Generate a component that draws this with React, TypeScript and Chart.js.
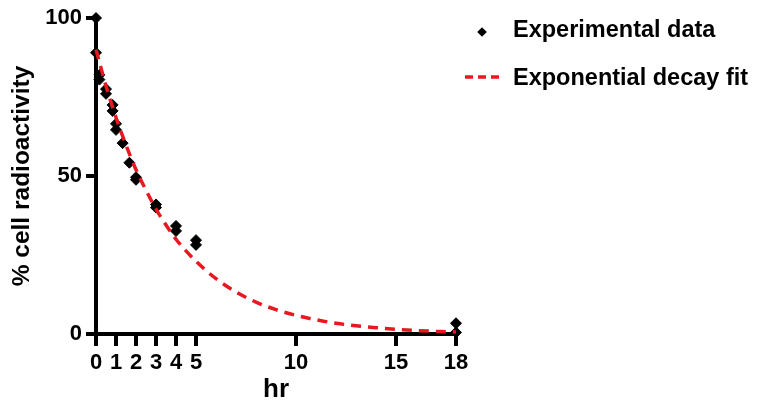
import React, { useEffect, useRef } from 'react';
import { Chart, registerables } from 'chart.js';

Chart.register(...registerables);

// ---- data ----
const seriesLabels = ['Experimental data', 'Exponential decay fit'];
const expTimes = [0, 0, 0.17, 0.17, 0.5, 0.5, 0.83, 0.83, 1, 1, 1.33, 1.67, 2, 2, 3, 3, 4, 4, 5, 5, 18, 18];
const expValues = [100, 89, 82, 80.5, 77.5, 76, 72.5, 70.6, 66.5, 64.6, 60.4, 54.2, 49.6, 48.8, 41, 40, 34.2, 32.6, 29.7, 28.2, 3.4, 0.5];
const fitTimes = [0, 0.5, 1, 1.5, 2, 2.5, 3, 3.5, 4, 4.5, 5, 6, 7, 8, 9, 10, 11, 12, 13, 14, 15, 16, 17, 18];
const fitValues = [90, 78.5, 68.5, 59.8, 52, 45.5, 39.5, 34.5, 30, 26.3, 23, 17.5, 13.3, 10.1, 7.7, 5.9, 4.5, 3.4, 2.6, 2, 1.5, 1.1, 0.85, 0.65];
const xTicks = [0, 1, 2, 3, 4, 5, 10, 15, 18];
const yTicks = [0, 50, 100];
const xTitle = 'hr';
const yTitle = '% cell radioactivity';

const FONT = '"Liberation Sans", Arial, Helvetica, sans-serif';
const RED = 'rgb(232,24,32)';

const legendPlugin = {
  id: 'sideLegend',
  afterDraw(chart: any) {
    const { ctx } = chart;
    ctx.save();
    // item 1: diamond marker
    const cx = 482;
    ctx.fillStyle = '#000';
    ctx.beginPath();
    ctx.moveTo(cx, 32 - 4.8);
    ctx.lineTo(cx + 4.8, 32);
    ctx.lineTo(cx, 32 + 4.8);
    ctx.lineTo(cx - 4.8, 32);
    ctx.closePath();
    ctx.fill();
    // item 2: dashed line
    ctx.strokeStyle = RED;
    ctx.lineWidth = 3.5;
    ctx.setLineDash([8, 5]);
    ctx.beginPath();
    ctx.moveTo(465, 77);
    ctx.lineTo(499, 77);
    ctx.stroke();
    ctx.setLineDash([]);
    ctx.font = `bold 23.5px ${FONT}`;
    ctx.textBaseline = 'middle';
    ctx.textAlign = 'left';
    ctx.fillStyle = '#000';
    ctx.fillText(seriesLabels[0], 513, 31);
    ctx.fillText(seriesLabels[1], 513, 79);
    ctx.restore();
  },
};

export default function App() {
  const ref = useRef<HTMLCanvasElement | null>(null);

  useEffect(() => {
    if (!ref.current) return;
    const expData = expTimes.map((t, i) => ({ x: t, y: expValues[i] }));
    const fitData = fitTimes.map((t, i) => ({ x: t, y: fitValues[i] }));
    const chart = new Chart(ref.current, {
      type: 'scatter',
      data: {
        datasets: [
          {
            type: 'line',
            label: seriesLabels[1],
            data: fitData,
            borderColor: RED,
            backgroundColor: RED,
            borderWidth: 3.5,
            borderDash: [10, 7],
            pointRadius: 0,
            cubicInterpolationMode: 'monotone',
            fill: false,
            order: 0,
            clip: false,
          } as any,
          {
            type: 'scatter',
            label: seriesLabels[0],
            data: expData,
            pointStyle: 'rectRot',
            pointRadius: 5.5,
            backgroundColor: '#000',
            borderColor: '#000',
            borderWidth: 1,
            order: 1,
            clip: false,
          } as any,
        ],
      },
      options: {
        responsive: false,
        animation: false,
        layout: { padding: { left: 0, top: 18, right: 307, bottom: 0 } },
        plugins: {
          legend: { display: false },
          tooltip: { enabled: false },
        },
        scales: {
          x: {
            type: 'linear',
            min: 0,
            max: 18,
            afterBuildTicks: (s: any) => {
              s.ticks = xTicks.map((v) => ({ value: v }));
            },
            afterFit: (s: any) => {
              s.height = 71;
            },
            grid: {
              drawOnChartArea: false,
              drawTicks: true,
              tickLength: 12,
              color: '#000',
              lineWidth: 4,
            },
            border: { display: true, color: '#000', width: 4 },
            ticks: {
              color: '#000',
              padding: 4,
              maxRotation: 0,
              autoSkip: false,
              font: { family: FONT, size: 22, weight: 'bold' },
            },
            title: {
              display: true,
              text: xTitle,
              color: '#000',
              padding: { top: 0, bottom: 0 },
              font: { family: FONT, size: 26, weight: 'bold' },
            },
          },
          y: {
            type: 'linear',
            min: 0,
            max: 100,
            afterBuildTicks: (s: any) => {
              s.ticks = yTicks.map((v) => ({ value: v }));
            },
            afterFit: (s: any) => {
              s.width = 96;
            },
            grid: {
              drawOnChartArea: false,
              drawTicks: true,
              tickLength: 10,
              color: '#000',
              lineWidth: 4,
            },
            border: { display: true, color: '#000', width: 4 },
            ticks: {
              color: '#000',
              padding: 4,
              font: { family: FONT, size: 22, weight: 'bold' },
            },
            title: {
              display: true,
              text: yTitle,
              color: '#000',
              padding: { top: 8, bottom: 0 },
              font: { family: FONT, size: 24.5, weight: 'bold' },
            },
          },
        },
      } as any,
      plugins: [legendPlugin],
    });
    return () => chart.destroy();
  }, []);

  return (
    <div style={{ position: 'fixed', left: 0, top: 0, width: 763, height: 405, background: '#fff' }}>
      <canvas ref={ref} width={763} height={405} style={{ display: 'block' }} />
    </div>
  );
}
